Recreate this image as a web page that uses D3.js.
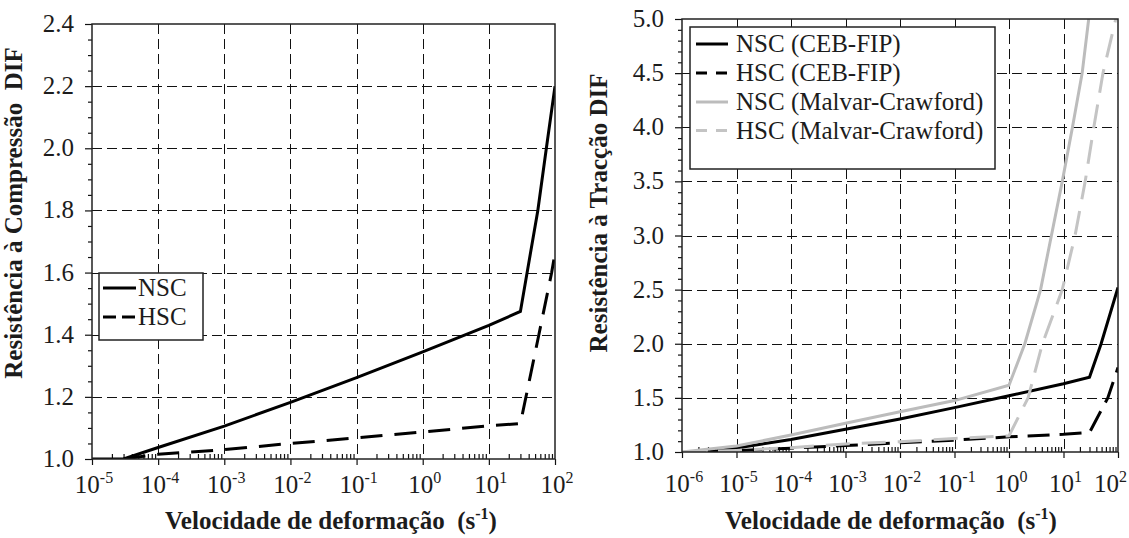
<!DOCTYPE html>
<html>
<head>
<meta charset="utf-8">
<script src="https://cdn.jsdelivr.net/npm/d3@7/dist/d3.min.js"></script>
<style>
  html, body { margin: 0; padding: 0; background: #fff; }
  svg { display: block; }
  text { font-family: "Liberation Serif", "Times New Roman", serif; fill: #1c1c1c; }
</style>
</head>
<body>
<svg id="chart" width="1129" height="538"></svg>
<script>
// ---- Compression DIF (CEB-FIP), strain rate in 1/s ----
const compXTicks = [1e-5, 1e-4, 1e-3, 1e-2, 1e-1, 1e0, 1e1, 1e2];
const compYTicks = [1.0, 1.2, 1.4, 1.6, 1.8, 2.0, 2.2, 2.4];
const compNSC = [[1e-5, 1.0], [3e-5, 1.0], [1e-4, 1.037], [1e-3, 1.106], [1e-2, 1.182], [1e-1, 1.262],
                 [1, 1.345], [10, 1.43], [30, 1.475], [55, 1.8], [74, 2.0], [100, 2.2]];
const compHSC = [[3e-5, 1.0], [1e-4, 1.015], [1e-3, 1.03], [1e-2, 1.05], [1e-1, 1.068],
                 [1, 1.087], [10, 1.107], [30, 1.114], [57, 1.4], [89, 1.6], [100, 1.663]];
const compLegend = ["NSC", "HSC"];

// ---- Tensile DIF: CEB-FIP and Malvar-Crawford ----
const tensXTicks = [1e-6, 1e-5, 1e-4, 1e-3, 1e-2, 1e-1, 1e0, 1e1, 1e2];
const tensYTicks = [1.0, 1.5, 2.0, 2.5, 3.0, 3.5, 4.0, 4.5, 5.0];
const tensNSC_CEB = [[3e-6, 1.0], [1e-5, 1.037], [1e-4, 1.115], [1e-3, 1.21], [1e-2, 1.305], [1e-1, 1.41],
                     [1, 1.52], [10, 1.63], [30, 1.69], [49, 2.0], [100, 2.52]];
const tensHSC_CEB = [[3e-6, 1.0], [1e-5, 1.012], [1e-4, 1.035], [1e-3, 1.06], [1e-2, 1.085], [1e-1, 1.11],
                     [1, 1.14], [10, 1.163], [30, 1.18], [65, 1.5], [100, 1.78]];
const tensNSC_MC = [[1e-6, 1.0], [1e-5, 1.055], [1e-4, 1.157], [1e-3, 1.265], [1e-2, 1.372], [1e-1, 1.475],
                    [1, 1.616], [1.95, 2.0], [3.8, 2.5], [6.0, 3.0], [9.5, 3.5], [14.6, 4.0], [22, 4.5], [29, 5.0]];
const tensHSC_MC = [[1e-6, 1.0], [1e-5, 1.015], [1e-4, 1.04], [1e-3, 1.075], [1e-2, 1.095], [1e-1, 1.125],
                    [1, 1.15], [2.24, 1.5], [4.1, 2.0], [9.5, 2.5], [16.3, 3.0], [25, 3.5], [36, 4.0], [53, 4.5], [91, 5.0]];
const tensLegend = ["NSC (CEB-FIP)", "HSC (CEB-FIP)", "NSC (Malvar-Crawford)", "HSC (Malvar-Crawford)"];

const xTitle = "Velocidade de deformação";
const compYTitle = "Resistência à Compressão  DIF";
const tensYTitle = "Resistência à Tracção DIF";

const svg = d3.select("#chart");
const FS = 25;
const W = 1129;

function minorTicks(majors) {
  const out = [];
  for (let i = 0; i < majors.length - 1; i++)
    for (let k = 2; k <= 9; k++) out.push(majors[i] * k);
  return out;
}

function yMinor(majors, step) {
  const out = [];
  const lo = majors[0], hi = majors[majors.length - 1];
  for (let v = lo; v <= hi + 1e-9; v += step) out.push(+v.toFixed(4));
  return out.filter(v => !majors.some(m => Math.abs(m - v) < 1e-6));
}

function panel(cfg) {
  const g = svg.append("g");
  const x = d3.scaleLog().domain([cfg.xTicks[0], cfg.xTicks[cfg.xTicks.length - 1]]).range([cfg.left, cfg.right]);
  const y = d3.scaleLinear().domain([cfg.yTicks[0], cfg.yTicks[cfg.yTicks.length - 1]]).range([cfg.bottom, cfg.top]);

  // dashed grid at inner major ticks
  const grid = g.append("g").attr("stroke", "#111").attr("stroke-width", 1).attr("stroke-dasharray", "10,5");
  grid.selectAll(".gx").data(cfg.xTicks.slice(1, -1)).join("line")
    .attr("x1", d => Math.round(x(d)) + 0.5).attr("x2", d => Math.round(x(d)) + 0.5)
    .attr("y1", cfg.top).attr("y2", cfg.bottom);
  grid.selectAll(".gy").data(cfg.yTicks.slice(1, -1)).join("line")
    .attr("y1", d => Math.round(y(d)) + 0.5).attr("y2", d => Math.round(y(d)) + 0.5)
    .attr("x1", cfg.left).attr("x2", cfg.right);

  // axes: major ticks outward, minor x ticks inward
  const axX = g.append("g").attr("transform", `translate(0,${cfg.bottom})`)
    .call(d3.axisBottom(x).tickValues(cfg.xTicks).tickSize(6).tickSizeOuter(0).tickFormat(""));
  const axXm = g.append("g").attr("transform", `translate(0,${cfg.bottom})`)
    .call(d3.axisBottom(x).tickValues(minorTicks(cfg.xTicks)).tickSize(-5).tickSizeOuter(0).tickFormat(""));
  const axY = g.append("g").attr("transform", `translate(${cfg.left},0)`)
    .call(d3.axisLeft(y).tickValues(cfg.yTicks).tickSize(7).tickSizeOuter(0).tickFormat(""));
  const axYm = g.append("g").attr("transform", `translate(${cfg.left},0)`)
    .call(d3.axisLeft(y).tickValues(yMinor(cfg.yTicks, cfg.yMinorStep)).tickSize(4).tickSizeOuter(0).tickFormat(""));
  [axX, axXm, axY, axYm].forEach(a => {
    a.select(".domain").remove();
    a.selectAll("line").attr("stroke", "#111").attr("stroke-width", 1.2);
  });

  // curves
  const clipId = "clip" + cfg.id;
  svg.append("clipPath").attr("id", clipId).append("rect")
    .attr("x", cfg.left).attr("y", cfg.top).attr("width", cfg.right - cfg.left).attr("height", cfg.bottom - cfg.top);
  const line = d3.line().x(d => x(d[0])).y(d => y(d[1]));
  const curves = g.append("g").attr("clip-path", `url(#${clipId})`);
  cfg.series.forEach(s => {
    curves.append("path").datum(s.data).attr("d", line)
      .attr("fill", "none").attr("stroke", s.color).attr("stroke-width", s.width)
      .attr("stroke-dasharray", s.dash || null).attr("stroke-linejoin", "miter");
  });

  // frame
  g.append("rect").attr("x", cfg.left).attr("y", cfg.top)
    .attr("width", cfg.right - cfg.left).attr("height", cfg.bottom - cfg.top)
    .attr("fill", "none").attr("stroke", "#222").attr("stroke-width", 1.5);

  // y tick labels
  g.selectAll(".yl").data(cfg.yTicks).join("text")
    .attr("x", cfg.left - 18).attr("y", d => y(d) + 8)
    .attr("text-anchor", "end").attr("font-size", FS)
    .text(d => d.toFixed(1));

  // x tick labels as 10^n, kept inside the page on the right
  const xl = g.selectAll(".xl").data(cfg.xTicks).join("text")
    .attr("y", cfg.bottom + cfg.xLabelDy)
    .attr("text-anchor", "middle").attr("font-size", FS);
  xl.append("tspan").text("10");
  xl.append("tspan").attr("font-size", 16).attr("dy", -10).text(d => String(Math.round(Math.log10(d))));
  xl.each(function (d) {
    const w = this.getComputedTextLength();
    const cx = Math.min(x(d) + 2, W - 2 - w / 2);
    d3.select(this).attr("x", cx);
  });

  // axis titles
  const xt = g.append("text").attr("x", cfg.xTitleX).attr("y", 529)
    .attr("text-anchor", "middle").attr("font-size", FS).attr("font-weight", "bold");
  xt.append("tspan").text(xTitle + "\u00a0\u00a0(s");
  xt.append("tspan").attr("font-size", 16).attr("dy", -10).text("-1");
  xt.append("tspan").attr("dy", 10).text(")");

  g.append("text").attr("transform", `translate(${cfg.yTitleX},213) rotate(-90)`)
    .attr("text-anchor", "middle").attr("font-size", FS).attr("font-weight", "bold")
    .style("white-space", "pre").text(cfg.yTitle);

  // legend
  const L = cfg.legend;
  const lg = g.append("g");
  lg.append("rect").attr("x", L.x).attr("y", L.y).attr("width", L.w).attr("height", L.h)
    .attr("fill", "#fff").attr("stroke", "#222").attr("stroke-width", 1.5);
  cfg.series.forEach((s, i) => {
    const cy = L.rows[i];
    lg.append("line").attr("x1", L.lx1).attr("x2", L.lx2).attr("y1", cy).attr("y2", cy)
      .attr("stroke", s.color).attr("stroke-width", s.width).attr("stroke-dasharray", s.legendDash || null);
    lg.append("text").attr("x", L.tx).attr("y", cy + 8).attr("font-size", FS).text(s.name);
  });
}

panel({
  id: "comp", left: 92, right: 555, top: 24, bottom: 459,
  xTicks: compXTicks, yTicks: compYTicks, yMinorStep: 0.05, xLabelDy: 34,
  xTitleX: 331, yTitleX: 22, yTitle: compYTitle,
  series: [
    { name: compLegend[0], data: compNSC, color: "#000", width: 3 },
    { name: compLegend[1], data: compHSC, color: "#000", width: 3, dash: "22,12", legendDash: "13,6" }
  ],
  legend: { x: 99, y: 273, w: 104, h: 67, rows: [288, 317], lx1: 103, lx2: 136, tx: 138 }
});

panel({
  id: "tens", left: 682, right: 1118, top: 19, bottom: 452,
  xTicks: tensXTicks, yTicks: tensYTicks, yMinorStep: 0.1, xLabelDy: 40,
  xTitleX: 891, yTitleX: 607, yTitle: tensYTitle,
  series: [
    { name: tensLegend[0], data: tensNSC_CEB, color: "#000", width: 3 },
    { name: tensLegend[1], data: tensHSC_CEB, color: "#000", width: 3, dash: "22,10", legendDash: "11,9" },
    { name: tensLegend[2], data: tensNSC_MC, color: "#bcbcbc", width: 3 },
    { name: tensLegend[3], data: tensHSC_MC, color: "#c4c4c4", width: 3, dash: "24,12", legendDash: "11,9" }
  ],
  legend: { x: 690, y: 27, w: 305, h: 142, rows: [44, 73, 102, 130.5], lx1: 696, lx2: 728, tx: 736 }
});
</script>
</body>
</html>
